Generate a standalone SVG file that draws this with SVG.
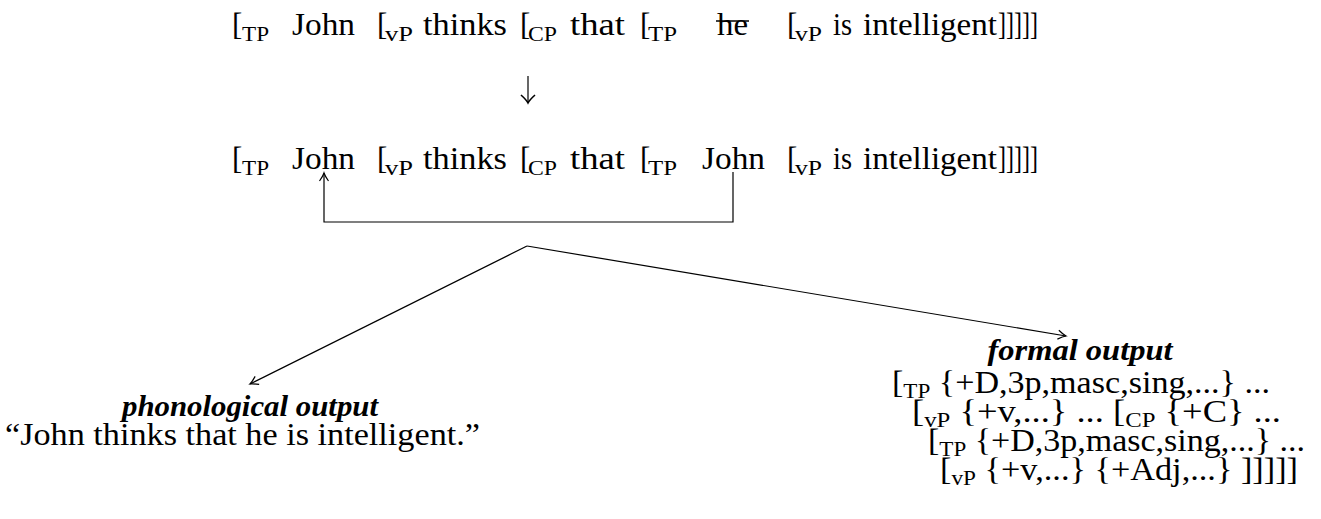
<svg xmlns="http://www.w3.org/2000/svg" width="1321" height="519" viewBox="0 0 1321 519" font-family="'Liberation Serif', 'Times New Roman', serif">
<defs>
<style>
text{font-family:"Liberation Serif","Times New Roman",serif;fill:#000}
.m{font-size:31px}
.s{font-size:21px}
.b{font-size:30px;font-weight:bold;font-style:italic}
.c{fill:none;stroke:#000;stroke-width:1.2}
</style>
<marker id="ah" markerUnits="userSpaceOnUse" markerWidth="14" markerHeight="14" viewBox="-10 -7 12 14" refX="0" refY="0" orient="auto">
<path d="M-8,-4.5 Q-3,-1 0,0 Q-3,1 -8,4.5" fill="none" stroke="#000" stroke-width="1.2"/>
</marker>
<marker id="ah2" markerUnits="userSpaceOnUse" markerWidth="18" markerHeight="18" viewBox="-11 -9 13 18" refX="0" refY="0" orient="auto">
<path d="M-8,-7 Q-3,-1.5 0,0 Q-3,1.5 -8,7" fill="none" stroke="#000" stroke-width="1.6"/>
</marker>
</defs>
<g id="line1">
<text class="m" x="232" y="35">[</text><text class="s" x="242" y="41" textLength="27" lengthAdjust="spacingAndGlyphs">TP</text>
<text class="m" x="292" y="35" textLength="63" lengthAdjust="spacingAndGlyphs">John</text>
<text class="m" x="377" y="35">[</text><text class="s" x="385" y="41" textLength="28" lengthAdjust="spacingAndGlyphs">vP</text>
<text class="m" x="423" y="35" textLength="84" lengthAdjust="spacingAndGlyphs">thinks</text>
<text class="m" x="520" y="35">[</text><text class="s" x="528" y="41" textLength="29" lengthAdjust="spacingAndGlyphs">CP</text>
<text class="m" x="570" y="35" textLength="55" lengthAdjust="spacingAndGlyphs">that</text>
<text class="m" x="640" y="35">[</text><text class="s" x="648" y="41" textLength="29" lengthAdjust="spacingAndGlyphs">TP</text>
<text class="m" x="717" y="35" textLength="31" lengthAdjust="spacingAndGlyphs">he</text>
<line x1="716" y1="21" x2="749" y2="21" stroke="#000" stroke-width="1.3"/>
<text class="m" x="787" y="35">[</text><text class="s" x="795" y="41" textLength="27" lengthAdjust="spacingAndGlyphs">vP</text>
<text class="m" x="833" y="35" textLength="19" lengthAdjust="spacingAndGlyphs">is</text>
<text class="m" x="863" y="35" textLength="134" lengthAdjust="spacingAndGlyphs">intelligent</text>
<text class="m" x="998" y="35" textLength="40" lengthAdjust="spacingAndGlyphs">]]]]]</text>
</g>
<g id="line2">
<text class="m" x="232" y="169">[</text><text class="s" x="242" y="175" textLength="27" lengthAdjust="spacingAndGlyphs">TP</text>
<text class="m" x="292" y="169" textLength="63" lengthAdjust="spacingAndGlyphs">John</text>
<text class="m" x="377" y="169">[</text><text class="s" x="385" y="175" textLength="28" lengthAdjust="spacingAndGlyphs">vP</text>
<text class="m" x="423" y="169" textLength="84" lengthAdjust="spacingAndGlyphs">thinks</text>
<text class="m" x="520" y="169">[</text><text class="s" x="528" y="175" textLength="29" lengthAdjust="spacingAndGlyphs">CP</text>
<text class="m" x="570" y="169" textLength="55" lengthAdjust="spacingAndGlyphs">that</text>
<text class="m" x="640" y="169">[</text><text class="s" x="648" y="175" textLength="29" lengthAdjust="spacingAndGlyphs">TP</text>
<text class="m" x="702" y="169" textLength="63" lengthAdjust="spacingAndGlyphs">John</text>
<text class="m" x="787" y="169">[</text><text class="s" x="795" y="175" textLength="27" lengthAdjust="spacingAndGlyphs">vP</text>
<text class="m" x="833" y="169" textLength="19" lengthAdjust="spacingAndGlyphs">is</text>
<text class="m" x="863" y="169" textLength="134" lengthAdjust="spacingAndGlyphs">intelligent</text>
<text class="m" x="998" y="169" textLength="40" lengthAdjust="spacingAndGlyphs">]]]]]</text>
</g>
<g id="phonological">
<text class="b" x="250" y="416" text-anchor="middle" textLength="256" lengthAdjust="spacingAndGlyphs">phonological output</text>
<text class="m" x="5" y="445" textLength="475" lengthAdjust="spacingAndGlyphs">“John thinks that he is intelligent.”</text>
</g>
<g id="formal">
<text class="b" x="1080" y="360" text-anchor="middle" textLength="185" lengthAdjust="spacingAndGlyphs">formal output</text>
<text class="m" x="892" y="393" textLength="378" lengthAdjust="spacingAndGlyphs">[<tspan class="s" dy="5">TP</tspan><tspan dy="-5"> {+D,3p,masc,sing,...} ...</tspan></text>
<text class="m" x="912" y="422" textLength="369" lengthAdjust="spacingAndGlyphs">[<tspan class="s" dy="5">vP</tspan><tspan dy="-5"> {+v,...} ... [</tspan><tspan class="s" dy="5">CP</tspan><tspan dy="-5"> {+C} ...</tspan></text>
<text class="m" x="928" y="451" textLength="377" lengthAdjust="spacingAndGlyphs">[<tspan class="s" dy="5">TP</tspan><tspan dy="-5"> {+D,3p,masc,sing,...} ...</tspan></text>
<text class="m" x="940" y="480" textLength="358" lengthAdjust="spacingAndGlyphs">[<tspan class="s" dy="5">vP</tspan><tspan dy="-5"> {+v,...} {+Adj,...} ]]]]]</tspan></text>
</g>
<g id="connectors">
<path class="c" d="M528,76 V103" marker-end="url(#ah2)"/>
<path class="c" d="M733,172 V222 H324 V173" marker-end="url(#ah)"/>
<path class="c" d="M527,246 L250,384" marker-end="url(#ah)"/>
<path class="c" d="M527,246 L1066,336" marker-end="url(#ah)"/>
</g>
</svg>
